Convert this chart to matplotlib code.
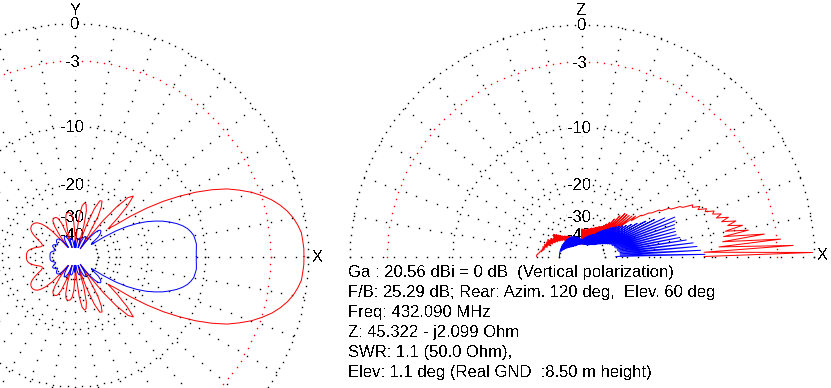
import numpy as np
import matplotlib
matplotlib.use('Agg')
import matplotlib.pyplot as plt

W, H, DPI = 831, 388, 100
plt.rcParams['font.family'] = ['Liberation Sans', 'DejaVu Sans']
plt.rcParams['text.antialiased'] = False

# ---------------- data ----------------
# Azimuth pattern (symmetric), 0..180 deg step 2, dB relative to Ga
az_deg = np.arange(0, 182, 2)
az_red = [-0.3, -0.3, -0.35, -0.4, -0.6, -0.85, -1.2, -1.65, -2.2, -2.9,
          -3.7, -4.7, -5.8, -7.3, -9.1, -11.3, -13.8, -17.0, -21.0, -26.0,
          -29.0, -24.0, -20.0, -17.5, -18.5, -22.0, -28.0, -40.0, -55.0, -38.0,
          -28.0, -24.5, -22.8, -23.0, -26.0, -34.0, -55.0, -34.0, -27.5, -25.3,
          -25.0, -26.0, -30.0, -40.0, -55.0, -42.0, -33.0, -30.0, -28.8, -28.5,
          -28.5, -29.0, -31.0, -37.0, -55.0, -39.0, -32.0, -29.5, -28.8, -28.7,
          -28.8, -29.5, -32.0, -38.0, -52.0, -41.0, -33.0, -29.5, -27.5, -26.3,
          -25.7, -25.4, -25.3, -25.4, -25.7, -26.3, -27.3, -28.7, -30.3, -31.8,
          -32.6, -32.8, -32.3, -31.0, -29.6, -28.5, -27.7, -27.2, -27.0, -26.9,
          -26.9]
az_blue = [-11.2, -11.2, -11.15, -11.1, -11.2, -11.3, -11.6, -12.0, -12.6, -13.4,
           -14.4, -15.5, -16.9, -18.5, -20.6, -23.3, -27.0, -33.0, -42.0, -41.0,
           -35.0, -33.0, -32.0, -31.8, -32.5, -34.5, -38.0, -45.0, -55.0, -45.0,
           -41.0, -40.0, -40.5, -42.0, -46.0, -55.0, -48.0, -44.0, -43.0, -43.5,
           -45.0, -48.0, -56.0, -56.0, -50.0, -46.0, -50.0, -56.0, -50.0, -45.0,
           -43.5, -43.0, -43.5, -45.0, -55.0, -47.0, -43.0, -41.0, -40.0, -40.0,
           -41.0, -43.0, -47.0, -52.0, -45.0, -41.0, -39.5, -38.8, -38.5, -38.5,
           -38.8, -39.5, -40.5, -41.5, -40.5, -39.3, -38.6, -38.4, -38.8, -39.8,
           -41.0, -42.0, -41.5, -40.3, -39.3, -38.7, -38.4, -38.3, -38.3, -38.3,
           -38.3]

# Elevation pattern, 0..180 deg step 1
el_deg = np.arange(0, 181, 1)
el_red = [-11, -0.1, -11, -1.6, -9.0, -2.6, -8.5, -4.0, -8.3, -5.5,
          -8.0, -6.0, -7.6, -6.6, -8.2, -7.3, -8.7, -8.0, -9.0, -8.7,
          -9.8, -9.5, -10.6, -10.2, -11.2, -11.0, -12.5, -12.8, -14.3, -14.5,
          -16.0, -16.2, -17.8, -18.3, -19.8, -20.2, -23.0, -21.3, -27.0, -22.0,
          -31.0, -22.5, -35.0, -22.8, -38.0, -23.0, -41.0, -24.5, -43.0, -26.5,
          -44.0, -28.5, -45.0, -30.0, -46.0, -31.0, -46.0, -32.0, -47.0, -32.5,
          -47.0, -33.0, -48.0, -33.5, -48.0, -34.0, -48.0, -34.5, -48.0, -35.0,
          -49.0, -35.0, -49.0, -35.5, -49.0, -36.0, -50.0, -36.0, -50.0, -36.5,
          -50.0, -37.0, -50.0, -37.0, -50.0, -37.0, -50.0, -37.0, -50.0, -50.0,
          -36.5, -50, -48, -50, -46, -50, -46, -49, -45, -49,
          -45, -48, -44, -48, -44, -47, -43, -47, -43, -46,
          -42, -46, -42, -45, -41, -45, -41, -44, -40, -44,
          -40, -43, -39, -43, -39, -42, -38, -42, -38, -41,
          -37, -41, -37, -40, -36, -40, -35, -39, -34, -38,
          -33, -38, -32, -37, -32, -37, -33, -36, -33, -36,
          -32, -35, -32, -35, -31, -34, -31, -34, -31, -33,
          -31, -33, -30.5, -32, -30.5, -32, -30, -31, -30, -31,
          -30, -30.5, -29.5, -30, -29, -29, -28.5, -28.5, -28, -28,
          -28]
el_blue = [-33, -10.9, -31, -11.5, -31, -12, -31, -12.5, -31.5, -13.5,
           -32, -14.5, -32, -15, -32.5, -15, -33, -15, -33, -14.8,
           -34, -14.5, -34, -14.3, -35, -16, -36, -18, -37, -20,
           -38, -22, -39, -23.5, -40, -25, -41, -26, -42, -27,
           -43, -28, -44, -29, -45, -30, -45, -31, -46, -32,
           -46, -33, -47, -34, -47, -35, -48, -36, -48, -37,
           -49, -38, -49, -38.5, -50, -39, -50, -39.5, -50, -40,
           -50, -40.5, -50, -41, -50, -41.5, -50, -42, -50, -42.5,
           -50, -43, -50, -43.5, -50, -44, -50, -44.5, -50, -45,
           -46, -50, -45, -50, -44.5, -50, -44, -50, -43.5, -50,
           -43, -50, -42.5, -50, -42, -50, -42, -50, -41.5, -50,
           -41.5, -50, -41, -50, -41, -50, -40.5, -50, -40.5, -50,
           -40, -50, -40, -50, -40, -49, -40, -49, -40, -49,
           -40, -49, -40, -48, -40, -48, -40, -48, -40, -47,
           -40, -47, -40, -46, -40, -46, -40, -45, -40, -45,
           -40, -44, -40, -44, -40, -43, -40, -43, -40, -42,
           -40, -42, -40, -41, -40, -41, -40, -40, -40, -40,
           -40, -40, -40, -40, -40, -40, -40, -40, -40, -40,
           -40]

ring_levels = [0, -3, -10, -20, -30, -40]
ring_labels = ['0', '-3', '-10', '-20', '-30', '-40']
spoke_deg = np.arange(0, 360, 10)

info_lines = [
    "Ga : 20.56 dBi = 0 dB  (Vertical polarization)",
    "F/B: 25.29 dB; Rear: Azim. 120 deg,  Elev. 60 deg",
    "Freq: 432.090 MHz",
    "Z: 45.322 - j2.099 Ohm",
    "SWR: 1.1 (50.0 Ohm),",
    "Elev: 1.1 deg (Real GND  :8.50 m height)",
]

# ---------------- scale (ARRL log-periodic) ----------------
def fwd(db):
    return 0.89 ** (-np.asarray(db, dtype=float) / 2.0)

def inv(r):
    r = np.clip(np.asarray(r, dtype=float), 1e-12, None)
    return -2.0 * np.log(r) / np.log(0.89)

RMIN = -200.0
LW = 0.72
DOT_GAP = 7.3     # px between ring dots
SPOKE_GAP = 11.0  # px between spoke dots
DOT_MS = 1.0      # marker size in points

fig = plt.figure(figsize=(W / DPI, H / DPI), dpi=DPI)
fig.patch.set_facecolor('white')


def make_polar(cx, cy, R):
    ax = fig.add_axes([(cx - R) / W, (H - cy - R) / H, 2 * R / W, 2 * R / H],
                      projection='polar')
    ax.set_rscale('function', functions=(fwd, inv))
    ax.axis('off')
    return ax


def draw_grid(ax, R, t0, t1):
    for lev in ring_levels:
        col = 'red' if lev == -3 else 'black'
        rp = R * fwd(lev)
        n = max(int(round(np.radians(t1 - t0) * rp / DOT_GAP)), 4)
        th = np.linspace(np.radians(t0), np.radians(t1), n + 1)
        ax.plot(th, np.full_like(th, lev), color=col, linestyle='none',
                marker='s', ms=DOT_MS, mew=0, antialiased=False,
                clip_on=False, zorder=1)
    rpix = np.arange(R * fwd(-40), R, SPOKE_GAP)
    rr = inv(rpix / R)
    for s in spoke_deg:
        if t0 <= s <= t1:
            ax.plot(np.full_like(rr, np.radians(s)), rr, color='black',
                    linestyle='none', marker='s', ms=DOT_MS, mew=0,
                    antialiased=False, clip_on=False, zorder=1)
    for lev, lab in zip(ring_levels, ring_labels):
        off = -2.0 if lab.startswith('-') else 0.0
        ax.annotate(lab, xy=(np.pi / 2, lev), xytext=(off, -4.3),
                    textcoords='offset points', ha='center', va='baseline',
                    fontsize=12, color='black', annotation_clip=False,
                    zorder=2,
                    bbox=dict(facecolor='white', edgecolor='none', pad=0.3))
    ax.set_rlim(RMIN, 0)


# Left: azimuth
RL = 233
axL = make_polar(75, 256.5, RL)
draw_grid(axL, RL, 0, 360)
thA = np.radians(np.concatenate([az_deg, 360 - az_deg[::-1][1:]]))
redA = np.concatenate([az_red, az_red[::-1][1:]])
blueA = np.concatenate([az_blue, az_blue[::-1][1:]])
axL.plot(thA, redA, color='red', lw=LW, clip_on=False, zorder=3)
axL.plot(thA, blueA, color='blue', lw=LW, clip_on=False, zorder=3)
axL.set_rlim(RMIN, 0)

# Right: elevation
RR = 232
axR = make_polar(582, 256.5, RR)
draw_grid(axR, RR, 0, 180)
thE = np.radians(el_deg)
axR.plot(thE, el_red, color='red', lw=LW, clip_on=False, zorder=3)
axR.plot(thE, el_blue, color='blue', lw=LW, clip_on=False, zorder=3)
axR.set_rlim(RMIN, 0)

# axis letters
for x, y, s in [(75, 15, 'Y'), (317, 262, 'X'), (582, 15, 'Z'), (822, 260, 'X')]:
    fig.text(x / W, 1 - y / H, s, ha='center', va='baseline', fontsize=12)

# info text
for i, line in enumerate(info_lines):
    fig.text(347.5 / W, 1 - (276.7 + 20 * i) / H, line, ha='left',
             va='baseline', fontsize=12)

fig.savefig('out.png', dpi=DPI, facecolor='white')
